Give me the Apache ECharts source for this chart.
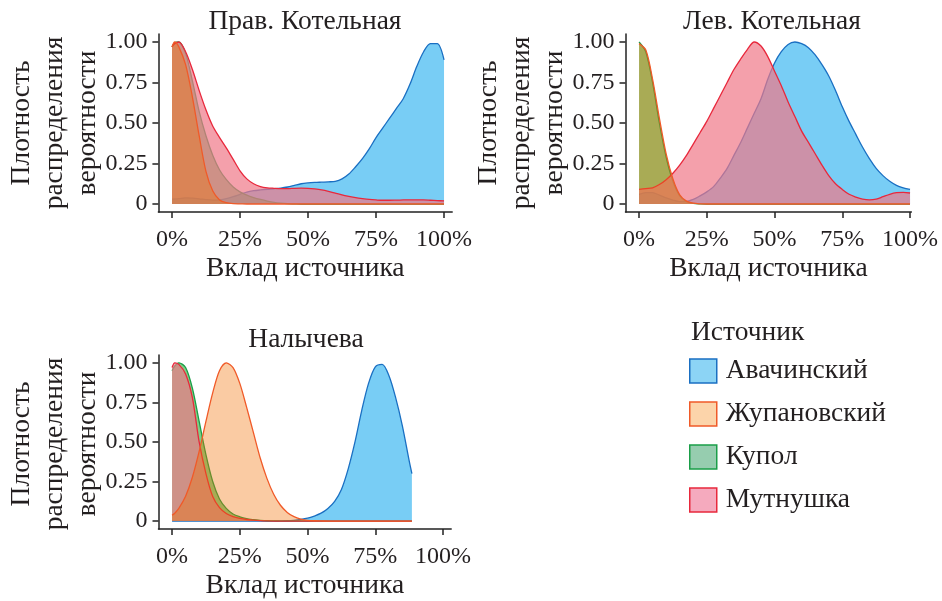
<!DOCTYPE html>
<html>
<head>
<meta charset="utf-8">
<script src="https://cdn.jsdelivr.net/npm/echarts@6/dist/echarts.min.js"></script>
<style>
html,body{margin:0;padding:0;background:#fff;}
#chart{width:942px;height:601px;}
</style>
</head>
<body>
<div id="chart"></div>
<script>
// ---------------- DATA ----------------
const sources = ['Авачинский', 'Жупановский', 'Купол', 'Мутнушка'];
const panelTitles = ['Прав. Котельная', 'Лев. Котельная', 'Налычева'];
const xTickValues = [0, 25, 50, 75, 100];
const yTickValues = [0, 0.25, 0.5, 0.75, 1];
const xAxisTitle = 'Вклад источника';
const yAxisTitle = 'Плотность\nраспределения\nвероятности';
const legendTitle = 'Источник';

// Прав. Котельная
const x1 = [0,1,2.5,5,7.5,10,12.5,15,17.5,20,22.5,25,27.5,30,32.5,35,37.5,40,42.5,45,47.5,50,52.5,55,57.5,60,62.5,65,67.5,70,72.5,75,77.5,80,82.5,85,87.5,90,92.5,95,97.5,100];
const p1Avacha = [0.03,0.031,0.033,0.038,0.036,0.032,0.027,0.024,0.026,0.033,0.045,0.06,0.074,0.082,0.087,0.091,0.094,0.098,0.105,0.115,0.125,0.13,0.133,0.135,0.137,0.14,0.155,0.185,0.23,0.28,0.34,0.41,0.47,0.53,0.59,0.65,0.74,0.85,0.94,0.99,0.99,0.89];
const p1Zhup = [0.97,1.0,0.97,0.86,0.66,0.42,0.2,0.08,0.025,0.008,0.002,0.001,0,0,0,0,0,0,0,0,0,0,0,0,0,0,0,0,0,0,0,0,0,0,0,0,0,0,0,0,0,0];
const p1Kupol = [0.97,0.995,1.0,0.93,0.76,0.57,0.42,0.3,0.21,0.15,0.105,0.075,0.055,0.04,0.028,0.018,0.01,0.005,0.002,0.001,0,0,0,0,0,0,0,0,0,0,0,0,0,0,0,0,0,0,0,0,0,0];
const p1Mutn = [0.97,0.99,1.0,0.94,0.83,0.7,0.58,0.48,0.41,0.345,0.275,0.205,0.155,0.125,0.108,0.1,0.097,0.095,0.095,0.097,0.098,0.097,0.093,0.087,0.078,0.067,0.056,0.047,0.039,0.033,0.028,0.025,0.023,0.023,0.024,0.025,0.026,0.026,0.025,0.023,0.021,0.019];

// Лев. Котельная
const x2 = [0,2.5,5,7.5,10,12.5,15,17.5,20,22.5,25,27.5,30,32.5,35,37.5,40,42.5,45,47.5,50,52.5,55,57.5,60,62.5,65,67.5,70,72.5,75,77.5,80,82.5,85,87.5,90,92.5,95,97.5,100];
const p2Avacha = [0.06,0.07,0.07,0.055,0.038,0.024,0.015,0.016,0.028,0.05,0.075,0.107,0.16,0.22,0.3,0.38,0.47,0.56,0.65,0.77,0.87,0.94,0.985,1.0,0.99,0.965,0.92,0.86,0.79,0.7,0.6,0.51,0.43,0.35,0.28,0.22,0.175,0.14,0.115,0.1,0.09];
const p2Zhup = [0.99,0.95,0.77,0.53,0.31,0.155,0.057,0.018,0.005,0.001,0,0,0,0,0,0,0,0,0,0,0,0,0,0,0,0,0,0,0,0,0,0,0,0,0,0,0,0,0,0,0];
const p2Kupol = [1.0,0.94,0.75,0.5,0.29,0.14,0.05,0.015,0.004,0.001,0,0,0,0,0,0,0,0,0,0,0,0,0,0,0,0,0,0,0,0,0,0,0,0,0,0,0,0,0,0,0];
const p2Mutn = [0.09,0.095,0.1,0.12,0.15,0.19,0.24,0.3,0.37,0.44,0.51,0.59,0.67,0.75,0.83,0.895,0.955,1.0,0.975,0.91,0.82,0.73,0.63,0.54,0.45,0.38,0.31,0.24,0.175,0.125,0.09,0.06,0.043,0.03,0.025,0.03,0.045,0.06,0.07,0.072,0.068];

// Налычева
const x3 = [0,1,2.5,5,7.5,10,12.5,15,17.5,20,22.5,25,27.5,30,32.5,35,37.5,40,42.5,45,47.5,50,52.5,55,57.5,60,62.5,65,67.5,70,72.5,75,77.5,80,82.5,85,87.5,88.5];
const p3Avacha = [0,0,0,0,0,0,0,0,0,0,0,0,0,0,0,0,0,0.001,0.002,0.005,0.01,0.018,0.032,0.05,0.08,0.125,0.2,0.33,0.5,0.7,0.87,0.975,0.99,0.92,0.78,0.6,0.38,0.3];
const p3Zhup = [0.037,0.05,0.08,0.157,0.277,0.44,0.63,0.81,0.95,1.0,0.97,0.87,0.72,0.56,0.4,0.27,0.17,0.1,0.055,0.028,0.013,0.005,0.002,0.001,0,0,0,0,0,0,0,0,0,0,0,0,0,0];
const p3Kupol = [0.95,0.98,1.0,0.97,0.84,0.63,0.42,0.25,0.14,0.08,0.045,0.027,0.015,0.009,0.005,0.002,0.001,0,0,0,0,0,0,0,0,0,0,0,0,0,0,0,0,0,0,0,0,0];
const p3Mutn = [0.97,1.0,0.99,0.93,0.78,0.5,0.3,0.155,0.085,0.048,0.028,0.017,0.01,0.006,0.003,0.001,0,0,0,0,0,0,0,0,0,0,0,0,0,0,0,0,0,0,0,0,0,0];

// ---------------- STYLE / LAYOUT ----------------
const FONT = 'Liberation Serif';
const TXT = '#231f20';
const FS = 24;      // numbers
const FSC = 27.5;   // Cyrillic text
const lineColors = ['#1a6fc2', '#f05a28', '#1a9e48', '#e8283c'];
const fillColors = ['rgba(10,164,237,0.55)', 'rgba(242,110,0,0.36)', 'rgba(50,175,60,0.62)', 'rgba(239,119,136,0.7)'];
const legendFills = ['#8cd4f5', '#fcd4aa', '#96cdaf', '#f5aabe'];
const drawZ = [1, 4, 2, 3]; // stacking order of the four sources

const panels = [
  { xs: x1, series: [p1Avacha, p1Zhup, p1Kupol, p1Mutn], grid: { left: 158.4, top: 33.9, width: 293.8, height: 178.2 }, xMax: 103, title: [305, 22], yname: [55, 123] },
  { xs: x2, series: [p2Avacha, p2Zhup, p2Kupol, p2Mutn], grid: { left: 625.5, top: 33.9, width: 285.9, height: 178.2 }, xMax: 100.5, title: [772, 22], yname: [522, 123] },
  { xs: x3, series: [p3Avacha, p3Zhup, p3Kupol, p3Mutn], grid: { left: 158.5, top: 354.9, width: 292.7, height: 178.2 }, xMax: 103, title: [306, 340], yname: [55, 444] }
];

const axisLineStyle = { color: '#222', width: 1.5 };
const grids = [], xAxes = [], yAxes = [], seriesList = [], graphics = [];

panels.forEach((p, i) => {
  grids.push(Object.assign({ containLabel: false }, p.grid));
  xAxes.push({
    type: 'value', gridIndex: i, min: -5, max: p.xMax,
    axisLine: { show: true, onZero: false, lineStyle: axisLineStyle },
    axisTick: { show: true, length: 6, customValues: xTickValues, lineStyle: axisLineStyle },
    axisLabel: { customValues: xTickValues, formatter: v => v + '%', margin: 16, fontFamily: FONT, fontSize: FS, color: TXT },
    splitLine: { show: false },
    name: xAxisTitle, nameLocation: 'middle', nameGap: 43,
    nameTextStyle: { fontFamily: FONT, fontSize: FSC, color: TXT }
  });
  yAxes.push({
    type: 'value', gridIndex: i, min: -0.05, max: 1.05,
    axisLine: { show: true, onZero: false, lineStyle: axisLineStyle },
    axisTick: { show: true, length: 6, customValues: yTickValues, lineStyle: axisLineStyle },
    axisLabel: { customValues: yTickValues, formatter: v => v === 0 ? '0' : v.toFixed(2), margin: 11, fontFamily: FONT, fontSize: FS, color: TXT },
    splitLine: { show: false }
  });
  p.series.forEach((vals, k) => {
    seriesList.push({
      name: sources[k], type: 'line', xAxisIndex: i, yAxisIndex: i,
      data: p.xs.map((x, j) => [x, vals[j]]),
      smooth: 0.3, showSymbol: false, symbol: 'none',
      lineStyle: { color: lineColors[k], width: 1.3 },
      itemStyle: { color: lineColors[k] },
      areaStyle: { color: fillColors[k], opacity: 1 },
      z: 2 + drawZ[k], silent: true
    });
  });
  graphics.push({
    type: 'text', x: p.title[0], y: p.title[1],
    style: { text: panelTitles[i], font: FSC + 'px "' + FONT + '"', fill: TXT, textAlign: 'center', textVerticalAlign: 'middle' }
  });
  graphics.push({
    type: 'text', x: p.yname[0], y: p.yname[1], rotation: Math.PI / 2,
    style: { text: yAxisTitle, font: FSC + 'px "' + FONT + '"', lineHeight: 33, fill: TXT, textAlign: 'center', textVerticalAlign: 'middle' }
  });
});

graphics.push({
  type: 'text', x: 691, y: 333,
  style: { text: legendTitle, font: FSC + 'px "' + FONT + '"', fill: TXT, textAlign: 'left', textVerticalAlign: 'middle' }
});

const chart = echarts.init(document.getElementById('chart'), null, { renderer: 'canvas' });
chart.setOption({
  animation: false,
  backgroundColor: '#ffffff',
  grid: grids,
  xAxis: xAxes,
  yAxis: yAxes,
  series: seriesList,
  legend: {
    orient: 'vertical', left: 689, top: 357, padding: 0,
    icon: 'rect', itemWidth: 27, itemHeight: 24, itemGap: 15,
    selectedMode: false,
    textStyle: { fontFamily: FONT, fontSize: FSC, color: TXT, padding: [0, 0, 0, 4] },
    data: sources.map((s, k) => ({
      name: s,
      itemStyle: { color: legendFills[k], borderColor: lineColors[k], borderWidth: 1.5 }
    }))
  },
  graphic: graphics
});
</script>
</body>
</html>
